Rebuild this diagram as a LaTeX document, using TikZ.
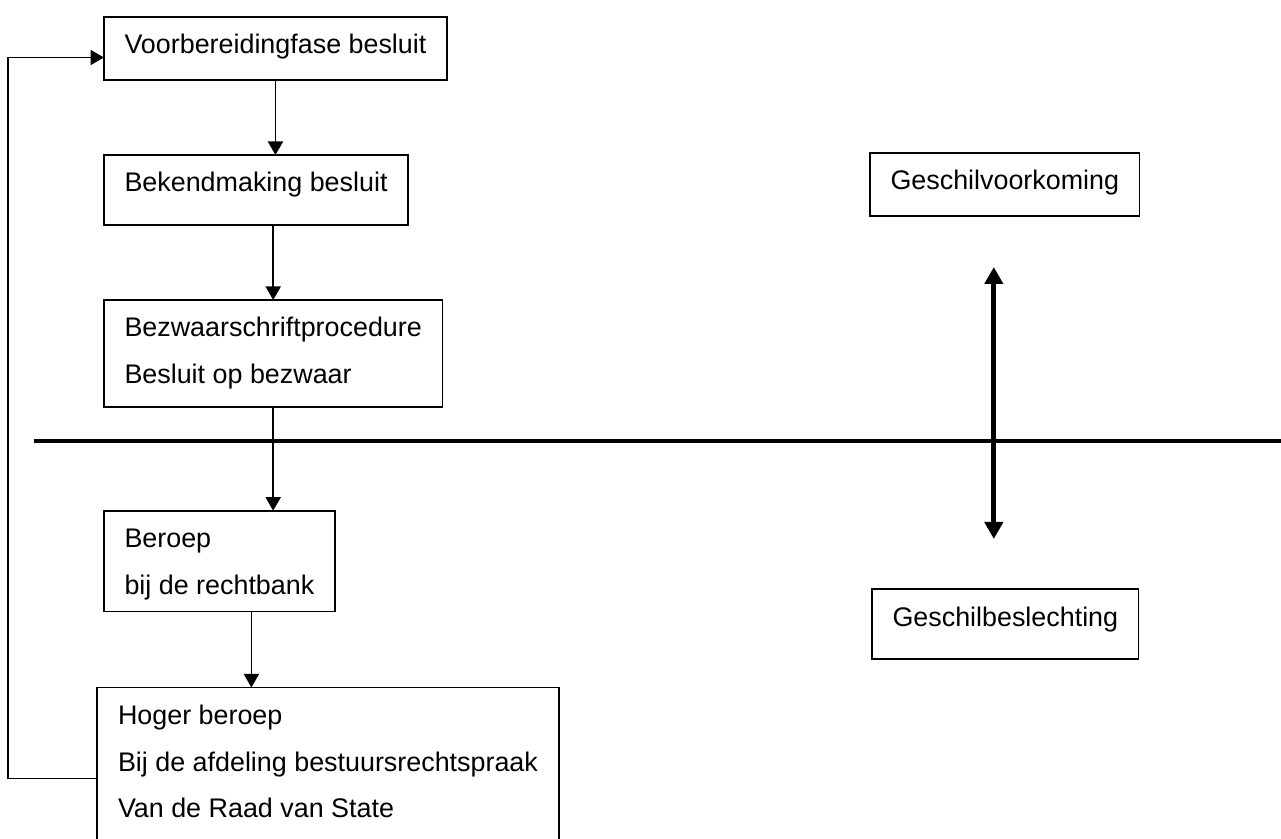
\documentclass[tikz,border=0pt]{standalone}
\usepackage{fontspec}
\setmainfont{Liberation Sans}
\usetikzlibrary{positioning, arrows.meta, calc}
\tikzset{
    node distance=1.5cm, % Gap between two stacked boxes
    stage/.style={ % Sets the properties for each box
        draw,
        line width=0.9pt,
        anchor=north west,
        align=left,
        inner xsep=0.41cm,
        inner ysep=0pt,
        outer sep=0pt,
        font=\fontsize{15.3}{26.6}\selectfont
    },
    flow/.style={ % Thin arrows between the boxes
        line width=1pt,
        -{Triangle[width=0.3cm,length=0.27cm]}
    },
    every edge/.style={
        draw,
        flow
    },
    fat/.style={line width=2.8pt}, % Divider and the double arrow
}
\newcommand{\boxtop}{\rule{0pt}{0.74cm}}
\newcommand{\boxbot}[1]{\rule[-#1]{0pt}{0pt}}

\begin{document}
\begin{tikzpicture}
    \useasboundingbox (0,0) rectangle (25.62,-16.78);

    \node[stage]                                                  (vbf) at (2.08,-0.34) {\boxtop Voorbereidingfase besluit\boxbot{0.52cm}};
    \node[stage, below=of vbf.south west, anchor=north west]      (bkm) {\boxtop Bekendmaking besluit\boxbot{0.66cm}};
    \node[stage, below=of bkm.south west, anchor=north west]      (bzw) {\boxtop Bezwaarschriftprocedure\\Besluit op bezwaar\boxbot{0.46cm}};
    \node[stage, below=2.08cm of bzw.south west, anchor=north west] (brp) {\boxtop Beroep\\bij de rechtbank\boxbot{0.34cm}};
    \node[stage, below=1.52cm of brp.south west, anchor=north west,
          xshift=-0.14cm, inner xsep=0.42cm]                      (hgb) {\boxtop Hoger beroep\\Bij de afdeling bestuursrechtspraak\\Van de Raad van State\boxbot{1.2cm}};

    \node[stage]                                                  (gvk) at (17.4,-3.06) {\boxtop Geschilvoorkoming\boxbot{0.52cm}};
    \node[stage, below=7.46cm of gvk.south west, anchor=north west,
          xshift=0.04cm]                                          (gbs) {\boxtop Geschilbeslechting\boxbot{0.66cm}};

    \coordinate (divL) at (0.68,-8.82);
    \coordinate (divR) at (25.8,-8.82);
    \draw[fat] (divL) -- (divR);

    \draw   (vbf.south)                 edge    (vbf.south |- bkm.north)
            (bzw.north |- bkm.south)    edge    (bzw.north)
            (bzw.south)                 edge    (bzw.south |- brp.north)
            ([xshift=0.64cm]brp.south)  edge    ([xshift=0.64cm]brp.south |- hgb.north)
    ;
    \draw[flow] ([yshift=-1.82cm]hgb.north west) -- ++(-1.78,0) |- ([yshift=-0.18cm]vbf.west);

    \draw[fat, {Triangle[width=0.36cm,length=0.34cm]}-{Triangle[width=0.36cm,length=0.34cm]},
          shorten <=1.02cm, shorten >=1cm]
        ([xshift=-0.22cm]gvk.south) -- ([xshift=-0.22cm]gvk.south |- gbs.north);
\end{tikzpicture}
\end{document}
